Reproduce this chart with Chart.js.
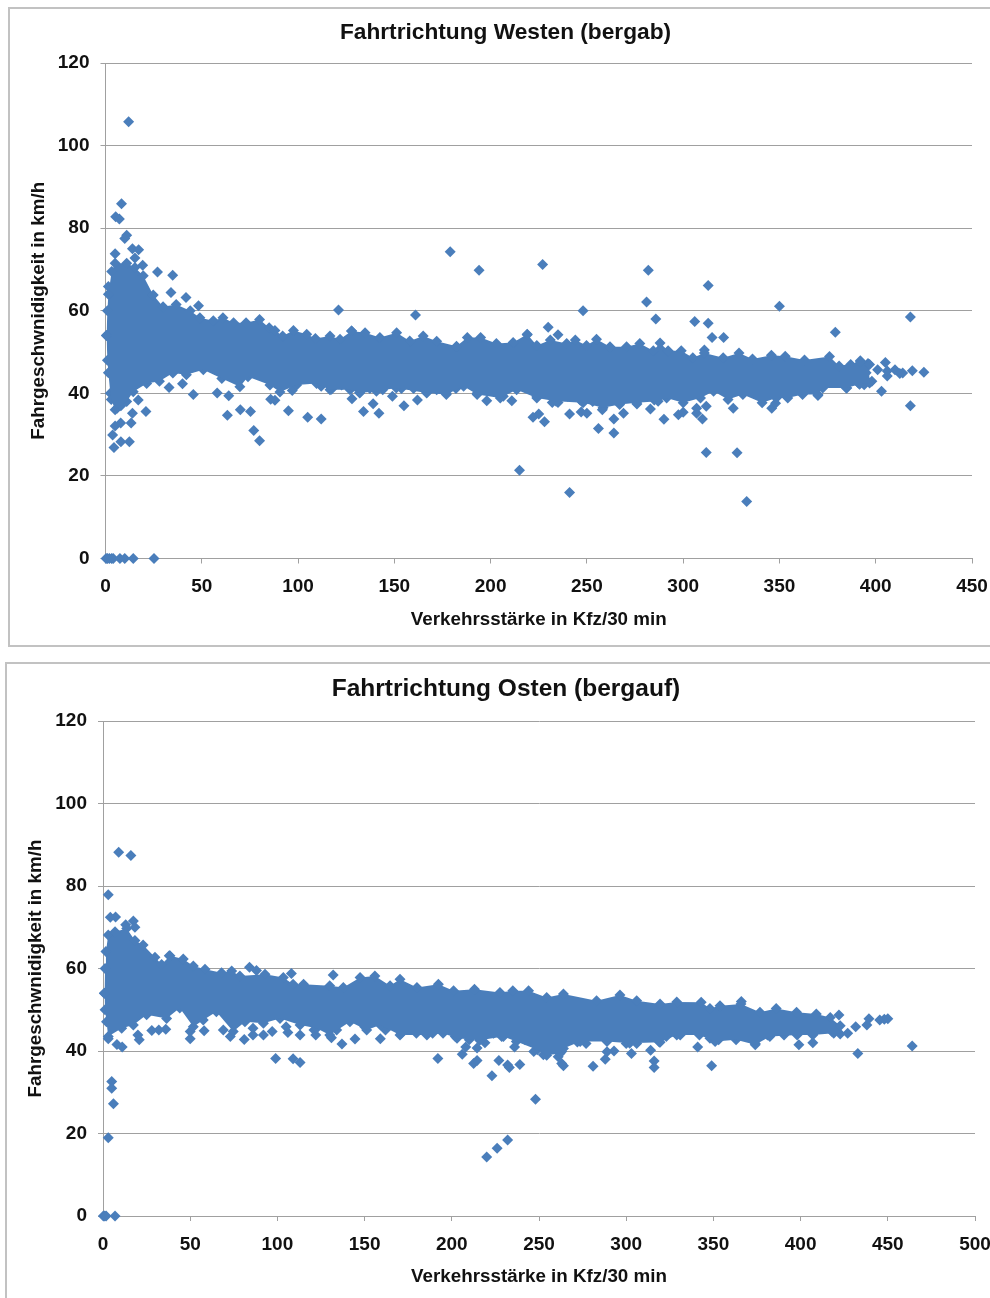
<html>
<head>
    <meta charset="UTF-8">
    <title>Verkehrsstärke und Fahrgeschwindigkeit</title>
    <script src="https://cdnjs.cloudflare.com/ajax/libs/Chart.js/4.4.1/chart.umd.js"></script>
    <style>
        html, body { margin: 0; padding: 0; background: #fff; overflow: hidden; }
        body { width: 990px; height: 1298px; position: relative; }
        canvas { position: absolute; }
        .frame { position: absolute; border: 2px solid #c2c2c2; box-sizing: border-box; }
    </style>
</head>
<body>
<div class="frame" style="left:8px;top:7px;width:1000px;height:640px;"></div>
<div class="frame" style="left:5px;top:662px;width:1000px;height:650px;"></div>
<canvas id="west" width="993" height="637" style="left:9px;top:8px;"></canvas>
<canvas id="east" width="1000" height="634" style="left:6px;top:663px;"></canvas>

<script>
    var markColor = '#4a7ebb';
    var gridColor = '#a0a0a0';
    var textColor = '#111111';
    var fontName = '"Liberation Sans", Arial, sans-serif';

    // Westen: top and bottom edge of the dense cloud
    var westUpperX = [0.5,1,1.5,3.2,5,11,15.3,19.6,24.8,29.9,36.7,44,49,56,61,66.5,73,80,85,88,92,97.6,104.5,109,116.6,121.8,127.8,134.8,142.5,151.2,158,165,172,182.3,187.9,194.8,203,211.7,219,224,231,239.5,244,249.8,255,262,270.6,277.5,284.5,288,292.2,299,305,311,320.8,329,336,345.8,353,363,376,381,392,396.8];
    var westUpperY = [54,60,64,69.5,71.5,71.5,70.5,68.5,63.8,61,61.5,60,58.3,57.6,58.3,57.1,57.1,57.9,55.9,55.2,53.9,55.2,54.3,53.3,53.9,53.1,55.1,54.7,53.5,54.7,52.7,53.9,52.6,51.4,53.5,53.5,52.1,52.3,54.3,51.6,52.9,52.1,52.9,51.6,53.1,51.3,51.3,52.1,50.3,52.2,50.3,50.3,48.6,49.8,48.6,49.8,48.3,49.2,49,48.1,48.9,46.6,47.6,47];
    var westLowerX = [0.5,1,1.5,2.5,3,5,8,11,14.4,21.4,28,35,42,50.8,60.4,69.8,74,85.4,90.6,99.3,109.6,116.6,127,132,140.7,151,166.8,177,186,193,205,213.5,224,234,248,258.4,267,275.8,287,291.4,300,309,315.8,323.3,331,341,348.4,354.3,362,370,372.5,384.7,391.6,396.8];
    var westLowerY = [54,48,45,40,38.5,36,37,38,40.4,42.4,42.9,44.9,44.5,45.7,43.6,41.6,44,42,40.3,42,42.4,40.9,40.9,40.1,40.5,41.3,40.1,39.7,41.7,39.7,38.9,40.9,38.9,38.1,37.7,36.5,37.3,37.7,38.1,38.9,37.7,38.9,40.5,38.5,39.7,37.7,38.9,38.9,39.7,39.7,41.3,41.3,42.2,42.5];
    // Westen: marks sitting on the lower edge between the outline points
    var westEdgeX = [117.4,122.6,127.3,132,137.3,144,153.7,160,166.8,172,182,193,201,206.6,224,232,235,240,246.5,253,258.4,267,273,285];
    var westEdgeY = [41,42,41.2,40.2,41.2,40.9,41.2,41.2,40.2,40.9,41.2,40,40.9,39.3,39.3,37.8,37.8,39.3,38.4,38,37.8,37.6,39.2,38.4];
    // Westen: single points outside the cloud
    var westPointX = [12,8.3,5.3,7.2,11,10,14,17.2,5,15.3,19.3,27,34.9,34,41.8,48.3,1.5,3.7,4.4,5,7.9,8,12.4,13.3,14,21,17,6,33,40,45.6,58,64,63.3,70,75.3,77,80,85.8,88,95,97,105,112,112,121,161,179,194,227,281.9,281,285.8,248,229.9,235,219,127.8,128,134,139,142,149,155,162,177,198,211,215,222,225,228,241,247,250,241,256,264,264,258,269,276,283,313,350,418,379,306,313,315,321,311,290,297.5,300,307,307,310,312,326,346,348,312,328,333,370,403,418,425,419,414,410,406,406,412.5,405,401,396,392,398,394,391,385,387,395,392,0.3,1,2,3.2,4,7.5,10,14.4,25.2];
    var westPointY = [105.8,85.9,82.8,82.2,78.3,77.5,75,74.8,73.8,72.8,71,69.4,68.6,64.4,63.2,61.2,65.9,29.9,26.9,32.1,32.8,28.3,28.3,32.8,35.2,35.6,38.4,36.4,41.4,42.3,39.7,40.1,39.4,34.7,36,35.6,31,28.5,38.6,38.3,35.8,40.7,34.2,33.8,41.7,60.2,59,74.3,69.8,71.2,69.8,62.1,58,60,56,54.2,54.2,55.1,38.7,35.6,37.5,35.2,39.3,37,38.4,40,38.2,38.2,21.4,34.2,35,33.1,35,35.5,35.2,16,31.5,30.4,33.8,36,35.2,37.4,36.2,66.1,61.1,58.5,54.8,57.4,57,53.5,53.5,50.5,33.7,34.8,35.4,35.2,36.4,33.8,36.9,36.4,36.4,37.6,25.7,25.6,13.8,39.5,40.5,37,45.1,45.5,44.9,45.7,44.2,45.4,44.8,47.5,45.7,47.2,47.9,42.9,42.1,42.5,41.3,47,45,45,0,0,0,0,0,0,0,0,0];

    // Osten: top and bottom edge of the dense cloud
    var eastUpperX = [0.8,1.2,1.7,3,6.9,13.6,18.3,23,29.8,33.6,38.4,46,51.8,58.5,68,73.8,78.5,92.9,103.4,109,115,130,137.8,147.4,155.9,164.6,170.3,180,192.3,201,213,227.6,235,244,254.4,264,283,296.4,306,319.4,329,343,348,353.8,365.8,376.7,386,397.7,409,417,422.7];
    var eastUpperY = [54,60,64.1,68.1,68.9,69.7,66.8,65.7,62.7,61,63.1,62.3,60.6,59.8,59,59.4,58.2,58.6,57.8,56.2,56.2,55.8,55.4,57.8,58.2,55.8,57.4,55.4,56.2,54.6,55,54.2,54.6,54.6,53,53.8,52.2,53.6,52.2,51.4,51.9,51.8,50.3,51,51.4,49.4,50.3,49.4,49,48.1,46.1];
    var eastLowerX = [0.8,1.2,2,3,10.7,17.4,25,36.5,44,51.8,57.5,65,74.7,81.4,92,101.5,113,122.5,130,141.6,151.2,159,170.3,185.7,195,203,216,229.6,237,249,254.4,262,264,273.6,289,302,319.4,329,342,351,363,374,382.4,398,407,419,422.7];
    var eastLowerY = [54,50,47.1,43.5,45.5,46.3,48.8,47.9,50.4,45.9,47.5,49.5,44.7,47.1,46.7,47.9,46.3,45.5,43.9,47.1,45.1,46.3,43.9,43.9,44.3,43.1,42.6,43.5,42.3,40.3,39,39.4,40.6,42.3,42.3,41.9,42.1,43.9,43.9,42.3,42.7,41.5,43.5,43.9,43.9,44.3,44.1];
    // Osten: marks sitting on the lower edge between the outline points
    var eastEdgeX = [50,69,86,105,121,131,134,150,162,171,179.7,189,202,210,216,224,228.6,242,247,252.5,260,263,272,277,289,300,306,319,323,331,348,353,363.5,370,381,390.5,407.5,418];
    var eastEdgeY = [44.7,45.1,45.5,45.9,45.1,43.2,45.1,45.9,45.1,44.3,44.3,44.3,43.5,42.7,43.5,44.3,43.5,42.7,39.9,39.1,40.7,39.9,42.2,41.8,39.8,41.8,41.8,42.2,43.5,43.9,43.1,42.7,43.5,43.5,43.9,43.9,44.3,44.7];
    // Osten: single points outside the cloud
    var eastPointX = [9,16,3,4.2,7.2,17.4,13,18.3,5,5,6,3,8,11,3,20.8,20,28,32,36,50,58,73,81,86,92,97,106,113,99,109,113,122,84,88,108,38,132,137,144.5,159,192,206,208,212.5,214.5,214.5,219,223,227,232,233,239,220,226,232,248,236,261,263,264,281,288,293,303,314,316,316,341,349,366,374,399,407,422,427,431.6,432.8,438,439.2,445.4,448,450,464,0.2,1,1.8,6.9];
    var eastPointY = [88.2,87.4,77.9,72.4,72.5,71.5,70.6,70,32.6,31,27.2,19,41.6,41,43,42.7,43.9,45,45.1,45.3,43,44.9,43.5,42.8,43.9,43.9,44.7,44.5,43.9,38.2,38.1,37.2,43.9,60.3,59.5,58.8,63.1,58.4,41.7,42.9,43,38.2,39.2,41,37,37.7,40.7,42,34,37.7,36.6,36,36.7,14.3,16.4,18.4,28.3,41,38.6,37,36.4,36.3,38,40,39.4,40.2,37.6,36,41,36.4,52,41.8,41.5,42,48.7,44.3,45.9,39.4,46.3,47.8,47.5,47.7,47.8,41.2,0,0,0,0];

    var speedTicksMax = 120;

    function toPoints(xs, ys) {
        var pts = [];
        for (var i = 0; i < xs.length; i++) {
            pts.push({x: xs[i], y: ys[i]});
        }
        return pts;
    }

    function cloudDataset(xs, ys, fillTo) {
        return {
            data: toPoints(xs, ys),
            showLine: true,
            borderWidth: 0,
            fill: fillTo,
            backgroundColor: markColor,
            pointStyle: 'rectRot',
            pointRadius: 5.5,
            pointBackgroundColor: markColor,
            pointBorderWidth: 0,
            clip: false
        };
    }

    function pointDataset(xs, ys) {
        return {
            data: toPoints(xs, ys),
            pointStyle: 'rectRot',
            pointRadius: 5.5,
            pointBackgroundColor: markColor,
            pointBorderWidth: 0,
            clip: false
        };
    }

    function drawChart(id, cfg) {
        return new Chart(document.getElementById(id), {
            type: 'scatter',
            data: {
                datasets: [
                    cloudDataset(cfg.upperX, cfg.upperY, '+1'),
                    cloudDataset(cfg.lowerX, cfg.lowerY, false),
                    pointDataset(cfg.edgeX, cfg.edgeY),
                    pointDataset(cfg.pointX, cfg.pointY)
                ]
            },
            options: {
                responsive: false,
                animation: false,
                plugins: {
                    legend: {display: false},
                    tooltip: {enabled: false},
                    title: {
                        display: true,
                        text: cfg.title,
                        color: textColor,
                        font: {family: fontName, size: cfg.titleSize, weight: 'bold', lineHeight: 1.2},
                        padding: {top: cfg.titleTop, bottom: cfg.titleBottom}
                    }
                },
                scales: {
                    x: {
                        type: 'linear',
                        min: 0,
                        max: cfg.xMax,
                        afterFit: function (scale) { scale.height = cfg.xAxisHeight; },
                        border: {color: gridColor, width: 1},
                        grid: {drawOnChartArea: false, drawTicks: true, tickLength: 5, color: gridColor},
                        ticks: {
                            stepSize: 50,
                            maxRotation: 0,
                            padding: 12,
                            color: textColor,
                            font: {family: fontName, size: 19, weight: 'bold'}
                        },
                        title: {
                            display: true,
                            text: 'Verkehrsstärke in Kfz/30 min',
                            color: textColor,
                            font: {family: fontName, size: 18.8, weight: 'bold', lineHeight: 1.2},
                            padding: {top: 0, bottom: cfg.xTitleBottom}
                        }
                    },
                    y: {
                        type: 'linear',
                        min: 0,
                        max: speedTicksMax,
                        afterFit: function (scale) { scale.width = cfg.yAxisWidth; },
                        border: {color: gridColor, width: 1},
                        grid: {drawTicks: true, tickLength: 5, color: gridColor},
                        ticks: {
                            stepSize: 20,
                            padding: 11,
                            color: textColor,
                            font: {family: fontName, size: 19, weight: 'bold'}
                        },
                        title: {
                            display: true,
                            text: 'Fahrgeschwnidigkeit in km/h',
                            color: textColor,
                            font: {family: fontName, size: 18.8, weight: 'bold', lineHeight: 1.2},
                            padding: {top: 18.6, bottom: 0}
                        }
                    },
                    // empty axis, only keeps the title centred on the whole frame
                    spacer: {
                        type: 'linear',
                        position: 'right',
                        min: 0,
                        max: 1,
                        afterFit: function (scale) { scale.width = cfg.rightGap; },
                        border: {display: false},
                        grid: {display: false},
                        ticks: {display: false}
                    }
                }
            }
        });
    }

    drawChart('west', {
        title: 'Fahrtrichtung Westen (bergab)',
        titleSize: 22.7, titleTop: 11.4, titleBottom: 16.4,
        xMax: 450, rightGap: 30, xAxisHeight: 86.5, xTitleBottom: 13.6, yAxisWidth: 96.5,
        upperX: westUpperX, upperY: westUpperY,
        lowerX: westLowerX, lowerY: westLowerY,
        edgeX: westEdgeX, edgeY: westEdgeY,
        pointX: westPointX, pointY: westPointY
    });

    drawChart('east', {
        title: 'Fahrtrichtung Osten (bergauf)',
        titleSize: 24.5, titleTop: 11.8, titleBottom: 16.8,
        xMax: 500, rightGap: 31, xAxisHeight: 81, xTitleBottom: 8.6, yAxisWidth: 97,
        upperX: eastUpperX, upperY: eastUpperY,
        lowerX: eastLowerX, lowerY: eastLowerY,
        edgeX: eastEdgeX, edgeY: eastEdgeY,
        pointX: eastPointX, pointY: eastPointY
    });
</script>
</body>
</html>
